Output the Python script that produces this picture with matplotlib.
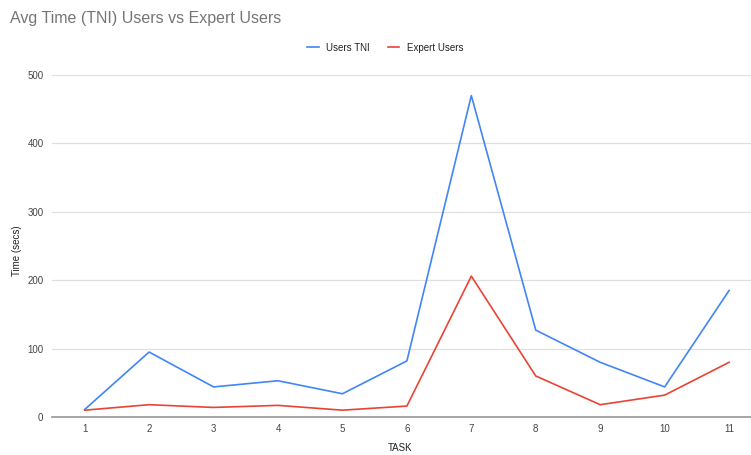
import matplotlib
matplotlib.use("Agg")
import matplotlib.pyplot as plt

plt.rcParams['font.family'] = ['Liberation Sans', 'DejaVu Sans']

# data
tasks = [1, 2, 3, 4, 5, 6, 7, 8, 9, 10, 11]
users_tni = [11, 95, 44, 53, 34, 82, 470, 127, 80, 44, 185]
expert_users = [10, 18, 14, 17, 10, 16, 206, 60, 18, 32, 80]
yticks = [0, 100, 200, 300, 400, 500]

fig = plt.figure(figsize=(7.51, 4.55), dpi=100)
ax = fig.add_axes([0.069, 0.0835, 0.931, 0.7515])

ax.plot(tasks, users_tni, color='#4285F4', linewidth=1.2, label='Users TNI')
ax.plot(tasks, expert_users, color='#EA4335', linewidth=1.2, label='Expert Users')

ax.set_xlim(0.49, 11.34)
ax.set_ylim(0, 500)
ax.set_xticks(tasks)
ax.set_yticks(yticks)
ax.tick_params(length=0, labelsize=7, labelcolor='#444444')
ax.tick_params(axis='x', pad=5)
ax.tick_params(axis='y', pad=6)

ax.grid(axis='y', color='#e0e0e0', linewidth=0.9)
ax.set_axisbelow(True)
for s in ['top', 'right', 'left']:
    ax.spines[s].set_visible(False)
ax.spines['bottom'].set_color('#9e9e9e')
ax.spines['bottom'].set_linewidth(1.3)

# axis titles placed in figure coordinates so they stay inside the canvas
fig.text(0.533, 0.004, 'TASK', fontsize=7, color='#222222', ha='center', va='bottom')
fig.text(0.022, 0.45, 'Time (secs)', fontsize=7, color='#222222', ha='center',
         va='center', rotation=90)

fig.text(0.013, 0.96, 'Avg Time (TNI) Users vs Expert Users', fontsize=11.5,
         color='#757575', va='center', ha='left')

fig.legend(loc='center', bbox_to_anchor=(0.513, 0.895), ncol=2, frameon=False,
           fontsize=7, handlelength=1.2, handletextpad=0.8, columnspacing=1.8,
           labelcolor='#222222')

plt.savefig('out.png', dpi=100)
